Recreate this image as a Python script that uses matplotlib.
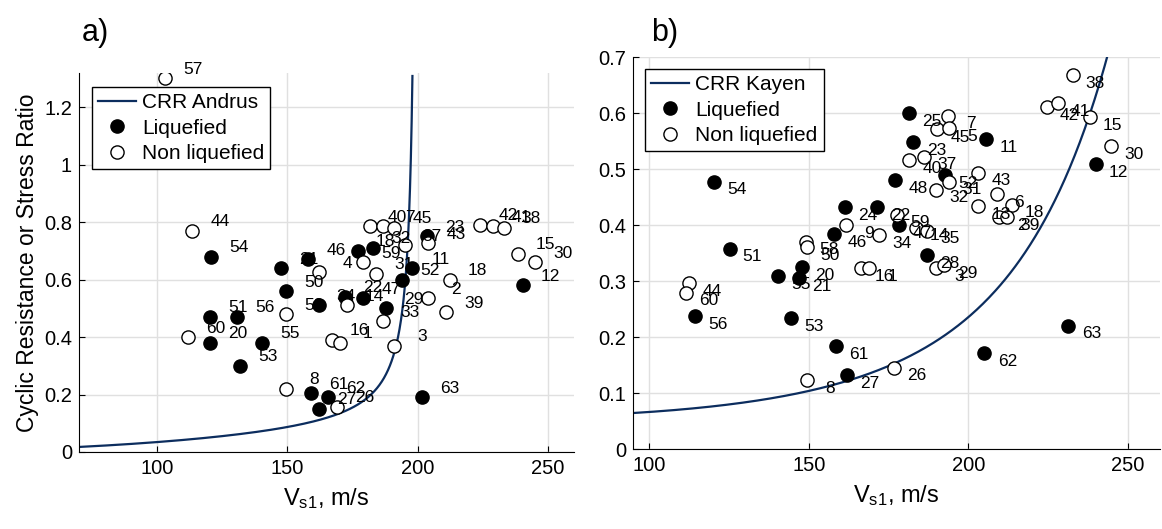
import numpy as np
import matplotlib
matplotlib.use("Agg")
import matplotlib.pyplot as plt

plt.rcParams['font.family'] = ['Liberation Sans', 'DejaVu Sans']
plt.rcParams['mathtext.fontset'] = 'custom'
plt.rcParams['mathtext.rm'] = 'Liberation Sans'
plt.rcParams['mathtext.it'] = 'Liberation Sans'

# panel a) Andrus - liquefied sites
a_liq_vs = [120.8, 120.4, 120.4, 130.8, 131.9, 140.4, 147.7, 158.0, 149.6, 162.0, 172.0, 179.0,
            177.0, 183.0, 198.0, 194.0, 188.0, 203.5, 201.5, 159.0, 165.5, 162.0, 240.4]
a_liq_crr = [0.68, 0.47, 0.38, 0.47, 0.30, 0.38, 0.64, 0.67, 0.56, 0.51, 0.54, 0.535,
             0.70, 0.71, 0.64, 0.60, 0.50, 0.75, 0.19, 0.205, 0.19, 0.15, 0.58]
a_liq_id = ['54', '51', '20', '56', '53', '55', '21', '46', '50', '34', '22', '47',
            '18', '32', '11', '52', '29', '23', '63', '61', '62', '27', '12']

# panel a) Andrus - non liquefied sites
a_non_vs = [103.0, 113.5, 112.0, 149.6, 149.6, 162.3, 179.0, 184.0, 172.7, 186.5, 167.0, 170.0,
            191.0, 169.0, 181.5, 186.5, 191.0, 195.0, 204.0, 212.3, 204.0, 210.8,
            224.0, 229.0, 233.0, 238.5, 245.0]
a_non_crr = [1.30, 0.77, 0.40, 0.48, 0.22, 0.626, 0.66, 0.62, 0.51, 0.455, 0.39, 0.38,
             0.37, 0.157, 0.786, 0.786, 0.78, 0.72, 0.727, 0.60, 0.535, 0.487,
             0.79, 0.786, 0.78, 0.69, 0.66]
a_non_id = ['57', '44', '60', '58', '8', '4', '59', '31', '14', '33', '16', '1',
            '3', '26', '40', '7', '45', '37', '43', '18', '2', '39',
            '42', '41', '38', '15', '30']

# panel b) Kayen - liquefied sites
b_liq_vs = [120.4, 125.2, 161.4, 171.5, 158.0, 140.4, 148.0, 147.0, 114.4, 144.5, 158.6, 162.0,
            205.0, 231.3, 181.5, 182.8, 205.6, 177.0, 192.8, 178.4, 187.0, 239.8]
b_liq_crr = [0.477, 0.358, 0.432, 0.432, 0.384, 0.309, 0.325, 0.305, 0.237, 0.234, 0.184, 0.132,
             0.171, 0.220, 0.600, 0.548, 0.553, 0.480, 0.489, 0.400, 0.346, 0.509]
b_liq_id = ['54', '51', '24', '22', '46', '55', '20', '21', '56', '53', '61', '27',
            '62', '63', '25', '23', '11', '48', '52', '47', '28', '12']

# panel b) Kayen - non liquefied sites
b_non_vs = [112.5, 111.5, 149.2, 149.5, 149.5, 166.5, 169.0, 176.8, 161.8, 172.0, 177.7, 183.7,
            187.0, 190.0, 192.5, 193.7, 190.3, 194.0, 181.5, 186.0, 194.0, 190.0, 203.0, 203.0,
            208.8, 213.5, 209.7, 212.0, 232.6, 224.5, 228.0, 238.0, 244.8]
b_non_crr = [0.296, 0.279, 0.370, 0.360, 0.123, 0.323, 0.323, 0.145, 0.400, 0.382, 0.418, 0.395,
             0.390, 0.323, 0.328, 0.595, 0.571, 0.573, 0.516, 0.522, 0.477, 0.463, 0.493, 0.434,
             0.455, 0.436, 0.414, 0.414, 0.668, 0.610, 0.618, 0.593, 0.541]
b_non_id = ['44', '60', '58', '50', '8', '16', '1', '26', '9', '34', '59', '14',
            '35', '3', '29', '7', '45', '5', '40', '37', '31', '32', '43', '13',
            '6', '18', '2', '39', '38', '42', '41', '15', '30']

curve_col = '#0c2d5e'

fig = plt.figure(figsize=(11.62, 5.29), dpi=100)
ax_a = fig.add_axes([0.068, 0.1456, 0.426, 0.717])
ax_b = fig.add_axes([0.5448, 0.1512, 0.4535, 0.741])

# CRR curves (Andrus & Stokoe / Kayen et al. forms)
va = 200 - np.geomspace(130, 1.9, 400)
crr_a = 0.022 * (va / 100) ** 2 + 2.5 * (1 / (200 - va) - 1 / 200)
keep = crr_a <= 1.31
vb = np.linspace(95, 250, 400)
crr_b = np.exp(((0.0073 * vb) ** 2.8011 - 5.70) / 1.946)

def draw(ax, v, crr, name, lv, lc, li, nv, nc, ni, off):
    ax.plot(v, crr, color=curve_col, lw=1.6, label=name, zorder=2)
    ax.plot(lv, lc, 'o', ms=9.5, mfc='black', mec='black', mew=1, ls='none', label='Liquefied', zorder=3)
    ax.plot(nv, nc, 'o', ms=9.5, mfc='white', mec='black', mew=1, ls='none', label='Non liquefied', zorder=3)
    for x, y, t in list(zip(lv, lc, li)) + list(zip(nv, nc, ni)):
        ax.annotate(t, (x, y), xytext=off, textcoords='offset points',
                    ha='center', va='center', fontsize=12.5, zorder=4)
    ax.grid(True, color='#e0e0e0', lw=1)
    ax.set_axisbelow(True)
    for s in ['top', 'right']:
        ax.spines[s].set_visible(False)
    ax.tick_params(direction='in', length=4, labelsize=14.5, pad=5)
    ax.set_xticks([100, 150, 200, 250])
    ax.set_xlabel('V$_{\\mathrm{s1}}$, m/s', fontsize=17, labelpad=6)
    ax.legend(loc='upper left', bbox_to_anchor=leg_pos[name], borderaxespad=0, fontsize=15,
              fancybox=False, edgecolor='black', framealpha=1, handlelength=1.8,
              handletextpad=0.3, borderpad=0.3, labelspacing=0.3)

leg_pos = {'CRR Andrus': (0.026, 0.962), 'CRR Kayen': (0.023, 0.969)}

draw(ax_a, va[keep], crr_a[keep], 'CRR Andrus', a_liq_vs, a_liq_crr, a_liq_id,
     a_non_vs, a_non_crr, a_non_id, (20, 6.5))
ax_a.set_xlim(70, 260)
ax_a.set_ylim(0, 1.32)
ax_a.set_yticks([0, 0.2, 0.4, 0.6, 0.8, 1.0, 1.2])
ax_a.set_yticklabels(['0', '0.2', '0.4', '0.6', '0.8', '1', '1.2'])
ax_a.set_ylabel('Cyclic Resistance or Stress Ratio', fontsize=16.5, labelpad=4)

draw(ax_b, vb, crr_b, 'CRR Kayen', b_liq_vs, b_liq_crr, b_liq_id,
     b_non_vs, b_non_crr, b_non_id, (16.5, -5.8))
ax_b.set_xlim(95, 260)
ax_b.set_ylim(0, 0.7)
ax_b.set_yticks([0, 0.1, 0.2, 0.3, 0.4, 0.5, 0.6, 0.7])
ax_b.set_yticklabels(['0', '0.1', '0.2', '0.3', '0.4', '0.5', '0.6', '0.7'])

fig.text(95 / 1162, 1 - 33 / 529, 'a)', fontsize=22, ha='center', va='center')
fig.text(665 / 1162, 1 - 33 / 529, 'b)', fontsize=22, ha='center', va='center')

fig.savefig('out.png', dpi=100)
